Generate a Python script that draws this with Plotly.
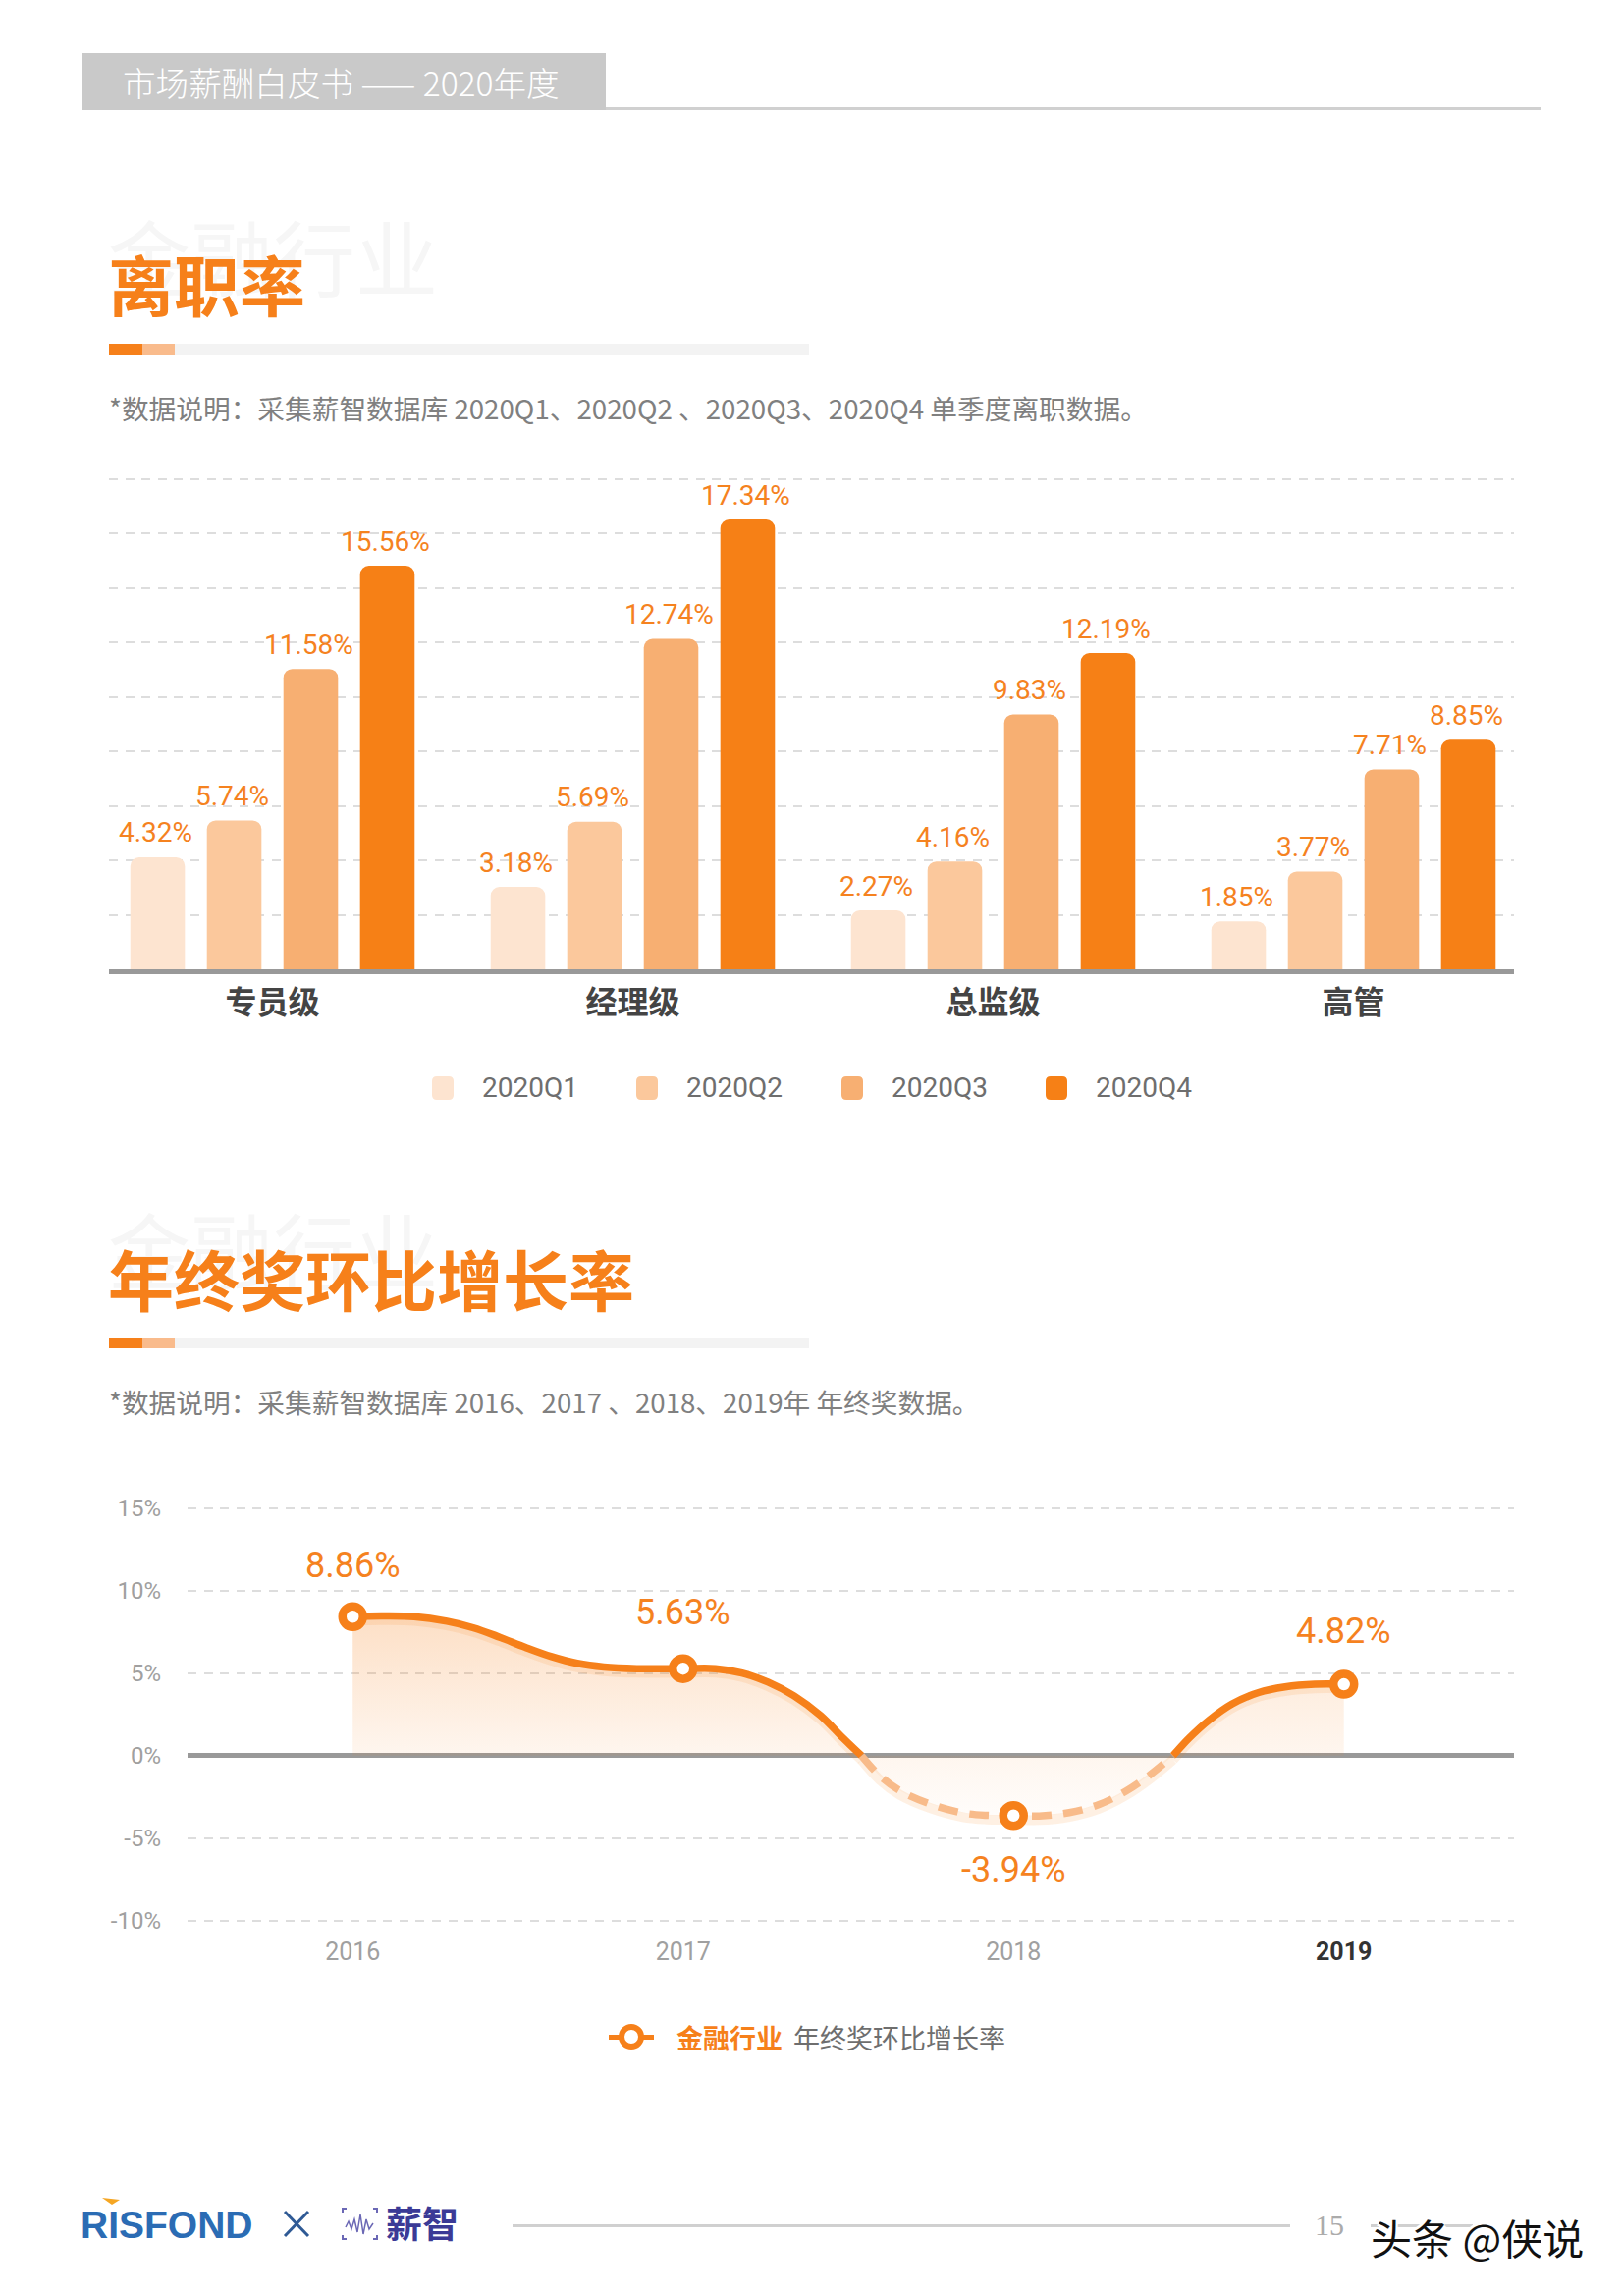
import plotly.graph_objects as go

W, H = 1652, 2338
ORANGE = "#f6801a"
LATIN = "Roboto, Noto Sans CJK SC"
CJK = "Noto Sans CJK SC"

# 1. Bar chart data (quarterly turnover)
levels = ["专员级", "经理级", "总监级", "高管"]
turnover = {
    "2020Q1": [4.32, 3.18, 2.27, 1.85],
    "2020Q2": [5.74, 5.69, 4.16, 3.77],
    "2020Q3": [11.58, 12.74, 9.83, 7.71],
    "2020Q4": [15.56, 17.34, 12.19, 8.85],
}
bar_colors = ["#fde4d0", "#fbc89c", "#f7af72", "#f68016"]

# 2. Line chart data: the markers sit a little off their printed labels
years = [2016, 2017, 2018, 2019]
bonus_y = [8.43, 5.28, -3.63, 4.33]
bonus_labels = ["8.86%", "5.63%", "-3.94%", "4.82%"]
label_shift = [52, 57, -55, 54]

# curve, one list per stretch between zero crossings
curve_a_x = [2016, 2016.086, 2016.186, 2016.285, 2016.364, 2016.443, 2016.523, 2016.602, 2016.68, 2016.76,
             2016.86, 2017, 2017.098, 2017.178, 2017.257, 2017.336, 2017.416, 2017.485, 2017.54]
curve_a_y = [8.43, 8.47, 8.43, 8.15, 7.76, 7.20, 6.57, 6.01, 5.60, 5.38,
             5.28, 5.28, 5.28, 5.02, 4.46, 3.63, 2.44, 1.05, 0]
curve_b_x = [2017.54, 2017.596, 2017.656, 2017.747, 2017.847, 2017.918, 2018, 2018.078, 2018.169, 2018.259,
             2018.34, 2018.415, 2018.483]
curve_b_y = [0, -1.23, -2.12, -2.92, -3.47, -3.61, -3.63, -3.65, -3.45, -2.96,
             -2.16, -1.13, 0]
curve_c_x = [2018.483, 2018.531, 2018.591, 2018.661, 2018.742, 2018.822, 2018.912, 2019]
curve_c_y = [0, 1.05, 2.14, 3.13, 3.83, 4.17, 4.33, 4.33]


def px_x(x):
    return x / W


def px_y(y):
    return 1 - y / H


def rounded_rect(x0, y0, x1, y1, r):
    return (f"M{px_x(x0 + r)},{px_y(y0)} L{px_x(x1 - r)},{px_y(y0)} Q{px_x(x1)},{px_y(y0)} {px_x(x1)},{px_y(y0 + r)} "
            f"L{px_x(x1)},{px_y(y1 - r)} Q{px_x(x1)},{px_y(y1)} {px_x(x1 - r)},{px_y(y1)} "
            f"L{px_x(x0 + r)},{px_y(y1)} Q{px_x(x0)},{px_y(y1)} {px_x(x0)},{px_y(y1 - r)} "
            f"L{px_x(x0)},{px_y(y0 + r)} Q{px_x(x0)},{px_y(y0)} {px_x(x0 + r)},{px_y(y0)} Z")


fig = go.Figure()
annotations = []

# 3. Bars, labels placed by annotation because they float higher than textposition gives
for j, ((name, values), color) in enumerate(zip(turnover.items(), bar_colors)):
    fig.add_trace(go.Bar(
        x=levels, y=values, name=name, marker_color=color, marker_line_width=0,
        xaxis="x", yaxis="y", showlegend=False,
    ))
    for i, v in enumerate(values):
        annotations.append(dict(x=i + (j - 1.5) * 0.2125, y=v, xref="x", yref="y", text=f"{v:.2f}%", showarrow=False,
                                yshift=25, xshift=-2, font=dict(family=LATIN, size=28, color="#f5821f")))

# 4. Line chart, fills first so the line stays on top
for cx, cy, start, stop, alpha0, alpha1 in [
    (curve_a_x, curve_a_y, 8.47, 0, 0.25, 0.07),
    (curve_b_x, curve_b_y, -3.65, 0, 0.02, 0.07),
    (curve_c_x, curve_c_y, 4.33, 0, 0.14, 0.07),
]:
    fig.add_trace(go.Scatter(
        x=cx, y=cy, mode="lines", fill="tozeroy", line=dict(width=0, shape="spline"),
        fillgradient=dict(type="vertical", start=start, stop=stop,
                          colorscale=[[0, f"rgba(246,128,26,{alpha0})"], [1, f"rgba(246,128,26,{alpha1})"]]),
        xaxis="x2", yaxis="y2", showlegend=False, hoverinfo="skip",
    ))

# soft shadow just below the curve
for cx, cy in [(curve_a_x, curve_a_y), (curve_b_x, curve_b_y), (curve_c_x, curve_c_y)]:
    fig.add_trace(go.Scatter(x=cx, y=[v - 0.25 for v in cy], mode="lines",
                             line=dict(width=10, color="rgba(246,128,26,0.12)", shape="spline"),
                             xaxis="x2", yaxis="y2", showlegend=False, hoverinfo="skip"))

for cx, cy in [(curve_a_x, curve_a_y), (curve_c_x, curve_c_y)]:
    fig.add_trace(go.Scatter(x=cx, y=cy, mode="lines", line=dict(width=7.5, color=ORANGE, shape="spline"),
                             xaxis="x2", yaxis="y2", showlegend=False))
fig.add_trace(go.Scatter(x=curve_b_x, y=curve_b_y, mode="lines",
                         line=dict(width=7.5, color="#f8bb8a", shape="spline", dash="20px,12px"),
                         xaxis="x2", yaxis="y2", showlegend=False))
fig.add_trace(go.Scatter(x=years, y=bonus_y, mode="markers",
                         marker=dict(size=21, color="white", line=dict(width=8.5, color=ORANGE)),
                         xaxis="x2", yaxis="y2", showlegend=False))


def add_text(x, y, text, size, color, family=CJK, anchor="left", weight=None, **kw):
    annotations.append(dict(x=px_x(x), y=px_y(y), xref="paper", yref="paper", text=text, showarrow=False,
                            xanchor=anchor, yanchor="middle", borderpad=0, borderwidth=0,
                            font=dict(family=family, size=size, color=color, weight=weight), **kw))


# line chart labels
for year, y, label, shift in zip(years, bonus_y, bonus_labels, label_shift):
    annotations.append(dict(x=year, y=y, xref="x2", yref="y2", text=label, showarrow=False, yshift=shift,
                            font=dict(family=LATIN, size=36, color="#f5821f")))

# 5. Page furniture: header, section titles, notes
shapes = []


def add_rect(x0, y0, x1, y1, color):
    shapes.append(dict(type="rect", xref="paper", yref="paper", x0=px_x(x0), x1=px_x(x1), y0=px_y(y0), y1=px_y(y1),
                       fillcolor=color, line_width=0))


def add_polyline(points, color, width):
    shapes.append(dict(type="path", xref="paper", yref="paper", line=dict(color=color, width=width),
                       path="M" + " L".join(f"{px_x(x)},{px_y(y)}" for x, y in points)))


add_rect(84, 54, 617, 112, "#c9c9c9")
add_rect(617, 109, 1569, 112, "#d0d0d0")
add_text(125, 83, "市场薪酬白皮书 —— 2020年度", 33.6, "white", weight=300)

sections = [
    (0, "离职率", "*数据说明：采集薪智数据库 2020Q1、2020Q2 、2020Q3、2020Q4 单季度离职数据。"),
    (1012, "年终奖环比增长率", "*数据说明：采集薪智数据库 2016、2017 、2018、2019年 年终奖数据。"),
]
for dy, title, note in sections:
    add_text(110, 259 + dy, "金融行业", 84, "#f6f6f6")
    add_text(110, 288 + dy, title, 67, ORANGE, weight=700)
    add_rect(111, 350 + dy, 145, 361 + dy, ORANGE)
    add_rect(145, 350 + dy, 178, 361 + dy, "#f9bb8c")
    add_rect(178, 350 + dy, 824, 361 + dy, "#f3f3f3")
    add_text(111, 415 + dy, note, 27.7, "#808080", weight=400)

# 6. Hand placed legends
for name, color, sx, tx in zip(turnover, bar_colors, [451, 659, 868, 1076], [540, 748, 957, 1165]):
    shapes.append(dict(type="path", xref="paper", yref="paper", path=rounded_rect(sx - 11, 1096, sx + 11, 1120, 5),
                       fillcolor=color, line_width=0))
    add_text(tx, 1108, name, 28, "#6e6e6e", family=LATIN, anchor="center")

add_rect(620, 2072, 666, 2077, ORANGE)
shapes.append(dict(type="circle", xref="paper", yref="paper", x0=px_x(633), x1=px_x(653), y0=px_y(2064), y1=px_y(2084),
                   fillcolor="white", line=dict(color=ORANGE, width=6)))
add_text(689, 2074, "金融行业", 27, ORANGE, weight=700)
add_text(808, 2074, "年终奖环比增长率", 27, "#6e6e6e")

# 7. Footer
add_text(82, 2265, "RISFOND", 39, "#2b6cb4", family="Liberation Sans", weight=700)
shapes.append(dict(type="path", xref="paper", yref="paper", fillcolor="#f5a623", line_width=0,
                   path=f"M{px_x(104)},{px_y(2238)} L{px_x(122)},{px_y(2240)} L{px_x(114)},{px_y(2245)} Z"))
add_polyline([(290, 2252), (314, 2277)], "#2f5a95", 3)
add_polyline([(290, 2277), (314, 2252)], "#2f5a95", 3)
# little wave logo with its corner brackets
add_polyline([(349, 2253), (349, 2249), (353, 2249)], "#6b68b5", 2)
add_polyline([(380, 2249), (384, 2249), (384, 2253)], "#6b68b5", 2)
add_polyline([(349, 2276), (349, 2280), (353, 2280)], "#6b68b5", 2)
add_polyline([(380, 2280), (384, 2280), (384, 2276)], "#6b68b5", 2)
add_polyline([(352, 2268), (355, 2262), (358, 2270), (361, 2260), (364, 2273), (367, 2255), (370, 2275),
              (373, 2260), (376, 2270), (380, 2264)], "#6b68b5", 1.5)
add_text(393, 2263, "薪智", 37, "#3b3a96", weight=700)
add_rect(522, 2265, 1314, 2268, "#d0d0d0")
add_rect(1396, 2265, 1500, 2268, "#d0d0d0")
add_text(1354, 2265, "15", 30, "#ababab", family="Liberation Serif", anchor="center")
add_text(1396, 2277, "头条 @侠说", 42, "#111111", weight=400)
annotations[-1]["font"]["shadow"] = "2px 2px 0 #fff, -2px -2px 0 #fff, 2px -2px 0 #fff, -2px 2px 0 #fff"

# 8. Layout
grid = dict(showgrid=True, gridcolor="#dddddd", griddash="9px,7.6px", gridwidth=2)
fig.update_layout(
    width=W, height=H, margin=dict(l=0, r=0, t=0, b=0, autoexpand=False), plot_bgcolor="white", paper_bgcolor="white",
    barmode="group", bargap=0.15, bargroupgap=0.287, barcornerradius=9,
    font=dict(family=CJK),
    annotations=annotations, shapes=shapes,
    xaxis=dict(domain=[px_x(111), px_x(1542)], range=[-0.4537, 3.4455], showline=True, linewidth=5, linecolor="#999999",
               ticks="", ticklabelstandoff=2, tickfont=dict(family=CJK, size=32, color="#444444", weight=600),
               showgrid=False, zeroline=False, anchor="y"),
    yaxis=dict(domain=[px_y(987), px_y(480)], range=[0, 19.2], tickmode="linear", tick0=0, dtick=2.1,
               showticklabels=False, zeroline=False, anchor="x", **grid),
    xaxis2=dict(domain=[px_x(191), px_x(1542)], range=[2015.5, 2019.515], tickmode="array", tickvals=years,
                ticktext=["2016", "2017", "2018", "<span style='color:#333333'><b>2019</b></span>"],
                ticklabelstandoff=8, tickfont=dict(family=LATIN, size=25, color="#a0a0a0"),
                showgrid=False, zeroline=False, showline=False, anchor="y2"),
    yaxis2=dict(domain=[px_y(1962), px_y(1530)], range=[-10.37, 15.35], tickmode="array",
                tickvals=[-10, -5, 0, 5, 10, 15], ticktext=["-10%", "-5%", "0%", "5%", "10%", "15%"],
                ticklabelstandoff=26, tickfont=dict(family=LATIN, size=24, color="#a0a0a0"),
                zeroline=True, zerolinecolor="#999999", zerolinewidth=5, anchor="x2", **grid),
)

fig.write_html("out.html", config={"displayModeBar": False}, post_script="document.body.style.margin='0';")
